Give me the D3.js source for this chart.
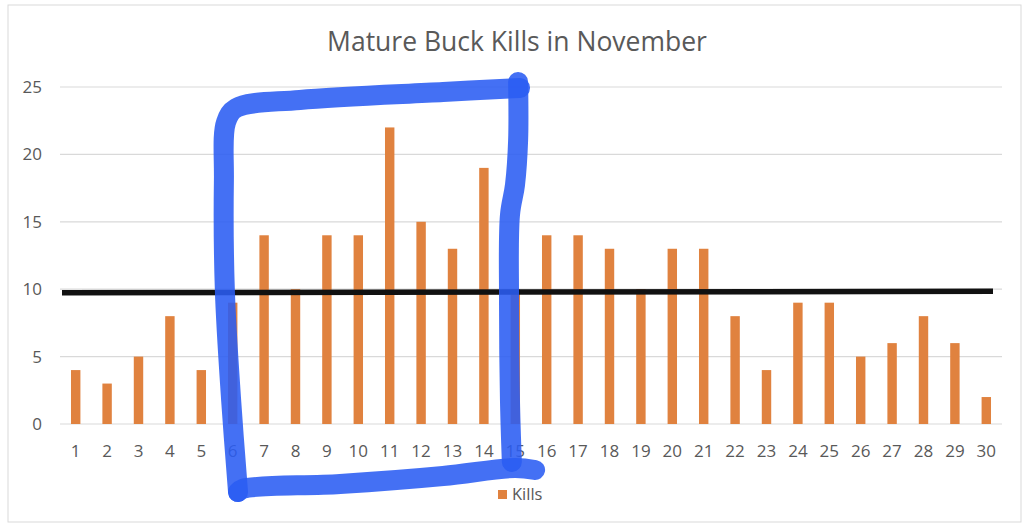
<!DOCTYPE html>
<html>
<head>
<meta charset="utf-8">
<script src="https://cdn.jsdelivr.net/npm/d3@7"></script>
<style>
  body { margin: 0; background: #fff; }
  text { font-family: "Open Sans", sans-serif; fill: #595959; }
</style>
</head>
<body>
<svg width="1024" height="528"></svg>
<script>
// dagen in november en aantal kills
const days = d3.range(1, 31).map(String);
const kills = [4, 3, 5, 8, 4, 9, 14, 10, 14, 14, 22, 15, 13, 19, 10, 14, 14, 13, 10, 13, 13, 8, 4, 9, 9, 5, 6, 8, 6, 2];
const yTicks = [0, 5, 10, 15, 20, 25];
const refLine = 9.8;

// handgetekende blauwe markering, in (dag, waarde) eenheden
const markLeftTop = [[6.17, -5.05], [5.95, 1.78], [5.75, 9.94], [5.72, 18.10], [5.79, 22.40], [6.11, 23.44], [8.14, 24.04], [12.70, 24.63], [15.15, 24.93]];
const markRight = [[15.09, 25.37], [15.09, 21.07], [14.99, 17.73], [14.83, 15.50], [14.80, 9.20], [14.83, 1.78], [14.89, -2.82]];
const markBottom = [[15.63, -3.41], [14.99, -3.26], [12.70, -3.86], [9.42, -4.45], [6.33, -4.80], [6.17, -5.05]];

const svg = d3.select('svg');

svg.append('rect')
  .attr('x', 8).attr('y', 5)
  .attr('width', 1013).attr('height', 517)
  .attr('fill', 'none').attr('stroke', '#d9d9d9');

const xScale = d3.scaleBand().domain(days).range([60, 1002]);
const yScale = d3.scaleLinear().domain([0, 25]).range([424, 87]);
// doorlopende schaal voor de markering
const xCont = d3.scaleLinear().domain([0.5, 30.5]).range([60, 1002]);

// grid
svg.append('g')
  .selectAll('line')
  .data(yTicks)
  .join('line')
  .attr('x1', 60).attr('x2', 1002)
  .attr('y1', d => yScale(d)).attr('y2', d => yScale(d))
  .attr('stroke', '#d9d9d9').attr('stroke-width', 1.2);

// y labels
svg.append('g')
  .selectAll('text')
  .data(yTicks)
  .join('text')
  .attr('x', 42)
  .attr('y', d => yScale(d) + 6)
  .attr('text-anchor', 'end')
  .attr('font-size', 17)
  .text(d => d);

// x labels
svg.append('g')
  .selectAll('text')
  .data(days)
  .join('text')
  .attr('x', d => xScale(d) + xScale.bandwidth() / 2)
  .attr('y', 457)
  .attr('text-anchor', 'middle')
  .attr('font-size', 17)
  .text(d => d);

// bars
const barW = xScale.bandwidth() * 0.3;
svg.append('g')
  .selectAll('rect')
  .data(kills)
  .join('rect')
  .attr('x', (d, i) => xScale(days[i]) + (xScale.bandwidth() - barW) / 2)
  .attr('y', d => yScale(d))
  .attr('width', barW)
  .attr('height', d => yScale(0) - yScale(d))
  .attr('fill', '#e0823f');

// titel
svg.append('text')
  .attr('x', 517).attr('y', 51)
  .attr('text-anchor', 'middle')
  .attr('font-size', 26.5)
  .text('Mature Buck Kills in November');

// legenda
svg.append('rect')
  .attr('x', 498).attr('y', 490)
  .attr('width', 9).attr('height', 9)
  .attr('fill', '#e0823f');
svg.append('text')
  .attr('x', 512).attr('y', 500)
  .attr('font-size', 16.5)
  .text('Kills');

// zwarte lijn
svg.append('line')
  .attr('x1', 62).attr('x2', 993)
  .attr('y1', yScale(refLine) + 0.8).attr('y2', yScale(refLine) - 0.6)
  .attr('stroke', '#111').attr('stroke-width', 5.5);

// blauwe markering
const markLine = d3.line()
  .x(d => xCont(d[0]))
  .y(d => yScale(d[1]))
  .curve(d3.curveCatmullRom);

svg.append('g')
  .selectAll('path')
  .data([markLeftTop, markRight, markBottom])
  .join('path')
  .attr('d', markLine)
  .attr('fill', 'none')
  .attr('stroke', '#2a5cf2')
  .attr('stroke-opacity', 0.88)
  .attr('stroke-width', 20)
  .attr('stroke-linecap', 'round')
  .attr('stroke-linejoin', 'round');
</script>
</body>
</html>
